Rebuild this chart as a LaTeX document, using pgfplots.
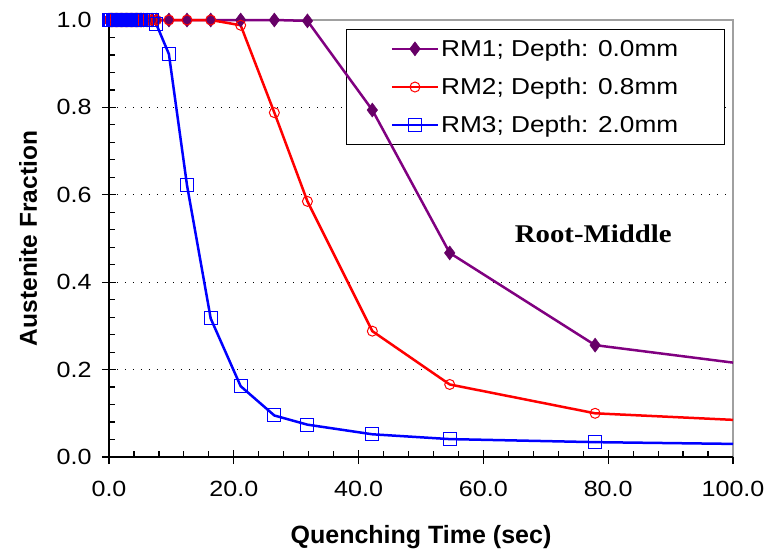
\documentclass[border=0pt]{standalone}
\usepackage{fontspec}
\setmainfont{Liberation Sans}
\newfontfamily\serifb{Liberation Serif}
\usepackage{graphicx}
\usepackage{pgfplots}
\pgfplotsset{compat=1.18}
\definecolor{rmpurple}{HTML}{800080}
\definecolor{rmdiam}{HTML}{660066}
\definecolor{bordergray}{HTML}{A0A0A0}

\pgfplotstableread{
x     y
0     1.0
0.2   1.0
0.4   1.0
0.6   1.0
0.8   1.0
1.0   1.0
1.2   1.0
1.4   1.0
1.6   1.0
1.8   1.0
2.0   1.0
2.2   1.0
2.4   1.0
2.6   1.0
2.8   1.0
3.0   1.0
3.2   1.0
3.4   1.0
3.6   1.0
3.8   1.0
4.0   1.0
4.2   1.0
4.4   1.0
4.6   1.0
4.8   1.0
5.0   1.0
5.2   1.0
5.5   1.0
6.1   1.0
6.9   1.0
7.6   1.0
9.6   1.0
12.5  1.0
16.3  1.0
21.1  1.0
26.5  1.0
31.8  0.998
42.2  0.794
54.6  0.467
77.9  0.256
}\rmone
\pgfplotstableread{
x     y
77.9  0.256
100   0.216
}\rmonetail
\pgfplotstableread{
x     y
0     1.0
0.2   1.0
0.4   1.0
0.6   1.0
0.8   1.0
1.0   1.0
1.2   1.0
1.4   1.0
1.6   1.0
1.8   1.0
2.0   1.0
2.2   1.0
2.4   1.0
2.6   1.0
2.8   1.0
3.0   1.0
3.2   1.0
3.4   1.0
3.6   1.0
3.8   1.0
4.0   1.0
4.2   1.0
4.4   1.0
4.6   1.0
4.8   1.0
5.0   1.0
5.2   1.0
5.5   1.0
6.1   1.0
6.9   1.0
7.6   1.0
9.6   1.0
12.5  1.0
16.3  1.0
21.1  0.988
26.5  0.788
31.8  0.585
42.2  0.288
54.6  0.166
77.9  0.100
}\rmtwo
\pgfplotstableread{
x     y
77.9  0.100
100   0.085
}\rmtwotail
\pgfplotstableread{
x     y
0     1.0
0.2   1.0
0.4   1.0
0.6   1.0
0.8   1.0
1.0   1.0
1.2   1.0
1.4   1.0
1.6   1.0
1.8   1.0
2.0   1.0
2.2   1.0
2.4   1.0
2.6   1.0
2.8   1.0
3.0   1.0
3.2   1.0
3.4   1.0
3.6   1.0
3.8   1.0
4.0   1.0
4.2   1.0
4.4   1.0
4.6   1.0
4.8   1.0
5.0   1.0
5.2   1.0
5.5   1.0
6.1   1.0
6.9   1.0
7.6   0.990
9.6   0.922
12.5  0.622
16.3  0.317
21.1  0.162
26.5  0.095
31.8  0.074
42.2  0.052
54.6  0.041
77.9  0.034
}\rmthree
\pgfplotstableread{
x     y
77.9  0.034
100   0.030
}\rmthreetail

\pgfplotsset{
  geom/.style={scale only axis, width=624pt, height=437pt,
    xmin=0, xmax=100, ymin=0, ymax=1, clip=false},
  purplestyle/.style={rmpurple, line width=2.5pt, mark=diamond*, mark size=7pt,
    mark options={solid, fill=rmdiam, draw=rmdiam, line width=0.5pt}},
  redstyle/.style={red, line width=2.5pt, mark=o, mark size=5pt,
    mark options={solid, draw=red, line width=1pt}},
  bluestyle/.style={blue, line width=2.5pt, mark=square, mark size=6.5pt,
    mark options={solid, draw=blue, line width=1pt}},
}
\newcommand{\wide}[1]{\scalebox{1.14}[1]{#1}}

\begin{document}
\begin{tikzpicture}
% layer 1: grid and legend
\begin{axis}[geom, hide axis,
  legend cell align=left,
  legend image code/.code={\draw[mark repeat=2,mark phase=2,#1] plot coordinates {(0pt,0pt)(23pt,0pt)(46pt,0pt)};},
  legend style={at={(0.38,0.979)}, anchor=north west, draw=black, line width=1.2pt, fill=white,
    font=\fontsize{23}{26}\selectfont, inner xsep=44pt, inner ysep=8pt, row sep=16pt,
    nodes={inner sep=2pt}},
]
\draw[black, line width=1.3pt, dash pattern=on 1.3pt off 6.7pt] (axis cs:0,0.2) -- (axis cs:100,0.2);
\draw[black, line width=1.3pt, dash pattern=on 1.3pt off 6.7pt] (axis cs:0,0.4) -- (axis cs:100,0.4);
\draw[black, line width=1.3pt, dash pattern=on 1.3pt off 6.7pt] (axis cs:0,0.6) -- (axis cs:100,0.6);
\draw[black, line width=1.3pt, dash pattern=on 1.3pt off 6.7pt] (axis cs:0,0.8) -- (axis cs:100,0.8);
\addlegendimage{purplestyle}
\addlegendentry{\wide{RM1; Depth: 0.0mm}}
\addlegendimage{redstyle}
\addlegendentry{\wide{RM2; Depth: 0.8mm}}
\addlegendimage{bluestyle}
\addlegendentry{\wide{RM3; Depth: 2.0mm}}
\end{axis}
% layer 2: axis and data
\begin{axis}[geom,
  xtick={0,20,...,100}, ytick={0,0.2,0.4,0.6,0.8,1.0},
  minor x tick num=4, minor y tick num=4,
  xtick pos=left, ytick pos=left,
  tick align=inside,
  major tick length=7pt, minor tick length=6pt,
  extra x ticks={0,20,...,100}, extra x tick labels={},
  extra x tick style={tick align=outside, major tick length=7pt},
  extra y ticks={0,0.2,0.4,0.6,0.8,1.0}, extra y tick labels={},
  extra y tick style={tick align=outside, major tick length=7pt},
  tick style={black, line width=1.2pt},
  axis line style={bordergray, line width=1.2pt},
  /pgf/number format/fixed,
  /pgf/number format/fixed zerofill,
  /pgf/number format/precision=1,
  /pgf/number format/assume math mode=true,
  xticklabel={\wide{\pgfmathprintnumber{\tick}}},
  yticklabel={\wide{\pgfmathprintnumber{\tick}}},
  ticklabel style={font=\fontsize{22}{26}\selectfont},
  xticklabel shift=21pt,
  yticklabel shift=14pt,
  every axis x label/.style={at={(axis description cs:0.5,0)}, yshift=-80pt, anchor=center, font=\fontsize{25}{28}\selectfont\bfseries},
  every axis y label/.style={at={(axis description cs:0,0.5)}, xshift=-81pt, rotate=90, anchor=center, font=\fontsize{24.5}{28}\selectfont\bfseries},
  xlabel={Quenching Time (sec)},
  ylabel={Austenite Fraction},
]
\draw[black, line width=1.5pt] (rel axis cs:0,1) -- (rel axis cs:0,0) -- (rel axis cs:1,0);

\addplot[purplestyle] table {\rmone};
\addplot[rmpurple, line width=2.5pt] table {\rmonetail};

\addplot[redstyle] table {\rmtwo};
\addplot[red, line width=2.5pt] table {\rmtwotail};

\addplot[bluestyle] table {\rmthree};
\addplot[blue, line width=2.5pt] table {\rmthreetail};

\node[font=\fontsize{25.5}{28}\selectfont\serifb\bfseries] at (axis cs:77.6,0.511) {\scalebox{1.13}[1]{Root-Middle}};
\end{axis}
\pgfresetboundingbox
\path[use as bounding box] (-109pt,-93pt) rectangle (659pt,457pt);
\end{tikzpicture}
\end{document}
